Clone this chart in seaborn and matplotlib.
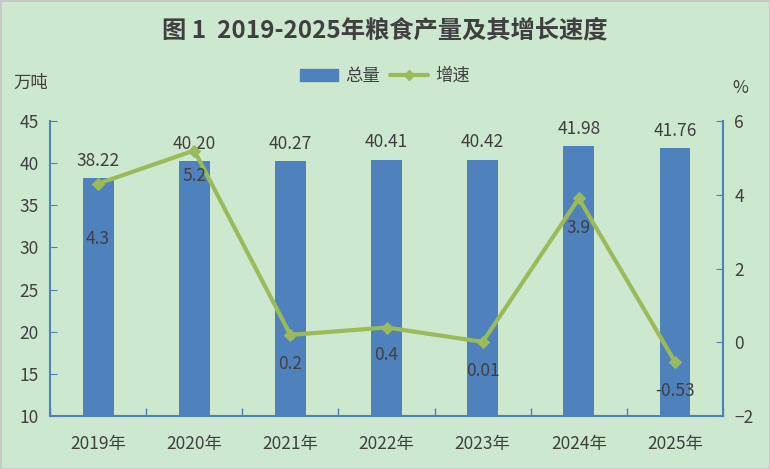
import numpy as np
import pandas as pd
import seaborn as sns
import matplotlib.pyplot as plt
from matplotlib.patches import Patch
from matplotlib.lines import Line2D

# Data
years = ["2019年", "2020年", "2021年", "2022年", "2023年", "2024年", "2025年"]
total = [38.22, 40.20, 40.27, 40.41, 40.42, 41.98, 41.76]
growth = [4.3, 5.2, 0.2, 0.4, 0.01, 3.9, -0.53]
growth_text = ["4.3", "5.2", "0.2", "0.4", "0.01", "3.9", "-0.53"]
# label offsets (points) below the line markers
growth_offset = [-40, -18, -21, -20, -21, -21, -21]

bar_color = "#4F81BD"
line_color = "#9BBB59"
bg = "#CCE8CF"
txt = "#404040"

sns.set_style("white")
plt.rcParams['font.family'] = ['Noto Sans CJK SC', 'DejaVu Sans']

df = pd.DataFrame({"year": years, "total": total, "growth": growth})

fig = plt.figure(figsize=(7.7, 4.69), dpi=100, facecolor=bg,
                 edgecolor="#C8C8C8", linewidth=2)
ax = fig.add_axes([0.065, 0.113, 0.874, 0.629])
ax.set_facecolor(bg)

sns.barplot(data=df, x="year", y="total", color=bar_color, width=0.32,
            saturation=1, linewidth=0, ax=ax)
ax.set_ylim(10, 45)
ax.set_yticks(range(10, 46, 5))
ax.set_xlim(-0.5, len(years) - 0.5)
ax.set_xlabel("")
ax.set_ylabel("")
for i, v in enumerate(total):
    ax.annotate(f"{v:.2f}", (i, v), xytext=(0, 6), textcoords="offset points",
                ha="center", va="bottom", fontsize=12.5, color=txt)

ax2 = ax.twinx()
sns.lineplot(x=np.arange(len(years)), y=growth, color=line_color, lw=3,
             marker="D", markersize=6, markeredgecolor=line_color, ax=ax2)
ax2.set_ylim(-2, 6)
ax2.set_yticks(range(-2, 7, 2))
for i, v in enumerate(growth):
    ax2.annotate(growth_text[i], (i, v), xytext=(0, growth_offset[i]),
                 textcoords="offset points", ha="center", va="center",
                 fontsize=12.5, color=txt)

for a in (ax, ax2):
    for s in a.spines.values():
        s.set_visible(False)
ax.spines["left"].set_visible(True)
ax.spines["bottom"].set_visible(True)
ax2.spines["right"].set_visible(True)
for s in (ax.spines["left"], ax.spines["bottom"], ax2.spines["right"]):
    s.set_color(bar_color)
    s.set_linewidth(1.5)

ax.tick_params(axis="y", direction="in", length=5, color=bar_color,
               labelsize=12.5, labelcolor=txt, left=True, pad=8)
ax2.tick_params(axis="y", direction="in", length=5, color=bar_color,
                labelsize=12.5, labelcolor=txt, right=True, pad=8)
ax.set_xticks(np.arange(len(years)))
ax.set_xticklabels(years)
ax.tick_params(axis="x", bottom=False, labelsize=12.5, labelcolor=txt, pad=10)
ax.set_xticks(np.arange(len(years) + 1) - 0.5, minor=True)
ax.tick_params(axis="x", which="minor", direction="in", length=6,
               color=bar_color, bottom=True, width=1)

fig.text(0.5, 0.935, "图 1  2019-2025年粮食产量及其增长速度", ha="center",
         va="center", fontsize=17.5, fontweight="bold", color=txt)
fig.text(0.04, 0.823, "万吨", ha="center", va="center", fontsize=12.5, color=txt)
fig.text(0.962, 0.812, "%", ha="center", va="center", fontsize=12.5, color=txt)

handles = [Patch(color=bar_color),
           Line2D([0], [0], color=line_color, lw=3, marker="D", markersize=5)]
fig.legend(handles, ["总量", "增速"], loc="center", bbox_to_anchor=(0.5, 0.838),
           ncol=2, frameon=False, fontsize=12.5, labelcolor=txt,
           handlelength=2.2, columnspacing=0.6, handletextpad=0.4)

fig.savefig("out.png", dpi=100, facecolor=bg, edgecolor="#C8C8C8")
